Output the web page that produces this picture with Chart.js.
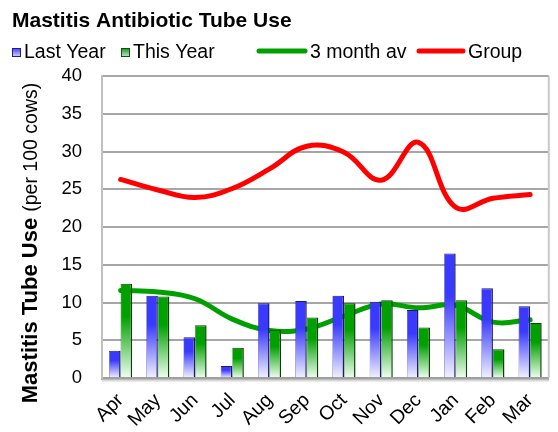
<!DOCTYPE html>
<html>
<head>
<meta charset="utf-8">
<script src="https://cdn.jsdelivr.net/npm/chart.js@4/dist/chart.umd.min.js"></script>
<style>
html,body{margin:0;padding:0;background:#fff;}
#wrap{width:558px;height:432px;position:relative;}
</style>
</head>
<body>
<div id="wrap"><canvas id="c" width="558" height="432"></canvas></div>
<script>
const categories = ['Apr','May','Jun','Jul','Aug','Sep','Oct','Nov','Dec','Jan','Feb','Mar'];
const lastYear   = [3.6, 10.9, 5.4, 1.6, 9.9, 10.2, 10.9, 10.1, 9.0, 16.5, 11.9, 9.5];
const thisYear   = [12.5, 10.8, 7.0, 4.0, 6.4, 8.0, 9.9, 10.3, 6.7, 10.3, 3.8, 7.3];
const threeMonth = [11.6, 11.4, 10.5, 7.8, 6.3, 6.5, 8.2, 9.8, 9.3, 9.6, 7.4, 7.7];
const group      = [26.3, 24.9, 23.9, 25.1, 27.7, 30.7, 29.9, 26.2, 31.2, 22.6, 23.8, 24.3];
const yTicks = [0,5,10,15,20,25,30,35,40];

const FONT = "'Liberation Sans', Arial, sans-serif";

function barGradient(solid, light) {
  return function(ctx) {
    const chart = ctx.chart;
    if (!chart.chartArea || ctx.raw == null) return solid;
    const ys = chart.scales.y;
    const top = ys.getPixelForValue(ctx.raw);
    const bot = ys.getPixelForValue(0);
    if (!isFinite(top) || !isFinite(bot) || bot - top < 1) return solid;
    const g = chart.ctx.createLinearGradient(0, top, 0, bot);
    g.addColorStop(0, solid);
    g.addColorStop(0.35, solid);
    g.addColorStop(1, light);
    return g;
  };
}

const decor = {
  id: 'decor',
  afterDraw(chart) {
    const c = chart.ctx;
    c.save();
    // Title
    c.fillStyle = '#000';
    c.textBaseline = 'alphabetic';
    c.textAlign = 'left';
    c.font = 'bold 21px ' + FONT;
    c.fillText('Mastitis Antibiotic Tube Use', 12, 27);

    // Legend
    c.font = '19.5px ' + FONT;
    function sq(x, y, solid, dark) {
      const g = c.createLinearGradient(0, y, 0, y + 9);
      g.addColorStop(0, solid);
      g.addColorStop(1, '#dde');
      c.fillStyle = g;
      c.fillRect(x, y, 9, 9);
      c.strokeStyle = dark;
      c.lineWidth = 1;
      c.strokeRect(x + 0.5, y + 0.5, 8, 8);
    }
    sq(12, 48, '#3a3aff', '#202080');
    c.fillStyle = '#000';
    c.fillText('Last Year', 24, 58);
    sq(121, 48, '#00a000', '#105010');
    c.fillStyle = '#000';
    c.fillText('This Year', 133, 58);
    c.lineCap = 'round';
    c.lineWidth = 5;
    c.strokeStyle = '#00a000';
    c.beginPath(); c.moveTo(259, 51); c.lineTo(305, 51); c.stroke();
    c.fillText('3 month av', 310, 58);
    c.strokeStyle = '#ff0000';
    c.beginPath(); c.moveTo(419, 51); c.lineTo(463, 51); c.stroke();
    c.fillText('Group', 468, 58);

    // Y axis title (mixed bold / normal)
    const t1 = 'Mastitis Tube Use ';
    const t2 = '(per 100 cows)';
    c.font = 'bold 22px ' + FONT;
    const w1 = c.measureText(t1).width;
    c.font = '19.5px ' + FONT;
    const w2 = c.measureText(t2).width;
    const total = w1 + w2;
    c.translate(37, 243);
    c.rotate(-Math.PI / 2);
    c.textAlign = 'left';
    c.font = 'bold 22px ' + FONT;
    c.fillText(t1, -total / 2, 0);
    c.font = '19.5px ' + FONT;
    c.fillText(t2, -total / 2 + w1, 0);
    c.restore();

    // right border and bottom floor
    const a = chart.chartArea;
    c.save();
    c.strokeStyle = '#c8c8c8';
    c.lineWidth = 2;
    c.beginPath(); c.moveTo(a.right, a.top); c.lineTo(a.right, a.bottom); c.stroke();
    c.strokeStyle = '#d8d8d8';
    c.lineWidth = 2;
    c.beginPath(); c.moveTo(a.left, a.bottom + 2.5); c.lineTo(a.right, a.bottom + 2.5); c.stroke();
    c.restore();
  }
};

new Chart(document.getElementById('c'), {
  type: 'bar',
  data: {
    labels: categories,
    datasets: [
      {
        label: 'Last Year',
        data: lastYear,
        backgroundColor: barGradient('#3a3aff', '#f2f2ff'),
        borderColor: '#1a1a70',
        borderWidth: {left: 0.5, right: 1.5, top: 1, bottom: 0},
        borderSkipped: false,
        barPercentage: 1,
        categoryPercentage: 0.62,
        order: 0
      },
      {
        label: 'This Year',
        data: thisYear,
        backgroundColor: barGradient('#00a000', '#f0fff0'),
        borderColor: '#0a400a',
        borderWidth: {left: 0.5, right: 1.5, top: 1, bottom: 0},
        borderSkipped: false,
        barPercentage: 1,
        categoryPercentage: 0.62,
        order: 0
      },
      {
        type: 'line',
        label: '3 month av',
        data: threeMonth,
        borderColor: '#00a000',
        borderWidth: 5,
        pointRadius: 0,
        tension: 0.4,
        fill: false,
        borderCapStyle: 'round',
        order: 1
      },
      {
        type: 'line',
        label: 'Group',
        data: group,
        borderColor: '#ff0000',
        borderWidth: 5,
        pointRadius: 0,
        tension: 0.4,
        fill: false,
        borderCapStyle: 'round',
        order: -1
      }
    ]
  },
  options: {
    responsive: false,
    animation: false,
    events: [],
    layout: { padding: { top: 76, right: 7, left: 0, bottom: 0 } },
    plugins: {
      legend: { display: false },
      title: { display: false },
      tooltip: { enabled: false }
    },
    scales: {
      x: {
        grid: { display: false, drawTicks: false },
        border: { display: true, color: '#a0a0a0', width: 3 },
        ticks: {
          font: { family: FONT, size: 19.5 },
          color: '#000',
          maxRotation: 45,
          minRotation: 45,
          padding: 11,
          autoSkip: false
        },
        afterFit(scale) { scale.height = 54; }
      },
      y: {
        min: 0,
        max: 40,
        afterBuildTicks(scale) { scale.ticks = yTicks.map(v => ({ value: v })); },
        grid: { color: '#a6a6a6', lineWidth: 2, drawTicks: false },
        border: { display: true, color: '#c0c0c0', width: 2 },
        ticks: {
          font: { family: FONT, size: 18.5 },
          color: '#000',
          padding: 20
        },
        afterFit(scale) { scale.width = 102; }
      }
    }
  },
  plugins: [decor]
});
</script>
</body>
</html>
